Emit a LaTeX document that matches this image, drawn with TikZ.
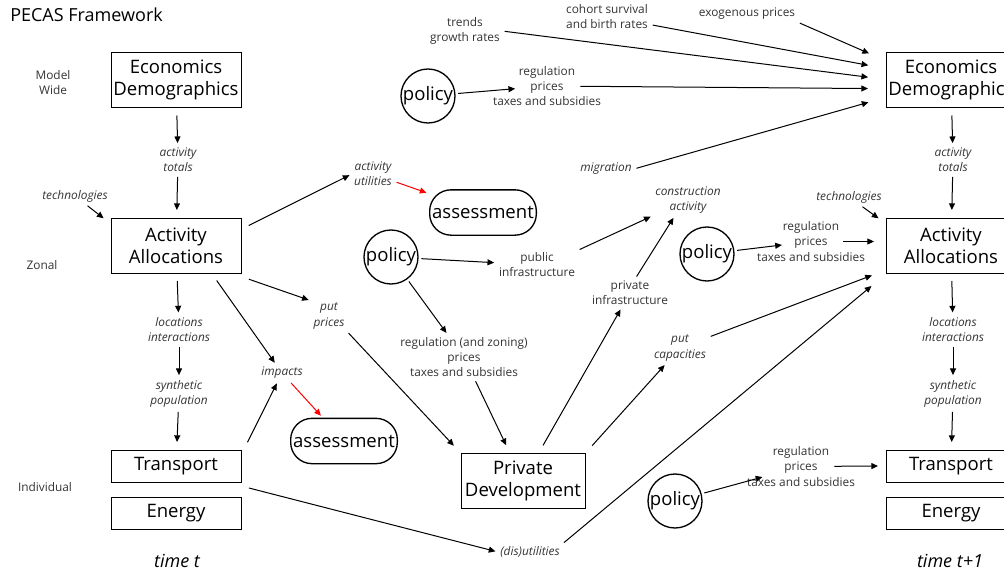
\documentclass[tikz,border=0pt]{standalone}
\usepackage{fontspec}
\setmainfont{Open Sans}
\usetikzlibrary{arrows.meta}
\begin{document}
\begin{tikzpicture}[
    x=0.75pt, y=-0.75pt,
    >={Triangle[length=5pt,width=4.5pt]},
    every node/.style={font=\fontsize{8.9}{11.3}\selectfont, text=black!80, align=center, inner sep=1.5pt},
    box/.style={draw, line width=0.75pt, text=black, font=\fontsize{13.9}{16.5}\selectfont,
      minimum width=97.5pt, minimum height=41.25pt, inner sep=0pt, outer sep=4pt},
    thinbox/.style={box, minimum height=24pt},
    policy/.style={draw, circle, line width=1pt, minimum size=40.5pt, inner sep=0pt,
      text=black, font=\fontsize{13.9}{16}\selectfont},
    assess/.style={draw, rounded corners=16pt, line width=1pt, minimum width=80pt,
      minimum height=34pt, inner sep=0pt, text=black, font=\fontsize{13.9}{16}\selectfont},
    lbl/.style={font=\fontsize{8.9}{11.3}\selectfont\itshape},
    side/.style={font=\fontsize{8.9}{11.3}\selectfont},
    timelbl/.style={font=\fontsize{13.5}{15}\selectfont\itshape, text=black},
    flow/.style={->, line width=0.75pt, shorten <=2pt, shorten >=2pt},
    redflow/.style={flow, red},
  ]

  \clip (0,0) rectangle (1004,571);

  % --- title and levels ---
  \node[anchor=west, font=\fontsize{13.5}{15}\selectfont, text=black] (title) at (8,15) {PECAS Framework};
  \node[side] (lvlModel) at (53,83) {Model\\Wide};
  \node[side] (lvlZonal) at (42,265) {Zonal};
  \node[side] (lvlIndiv) at (45,487) {Individual};

  % --- time t ---
  \node[box] (ecoL) at (176,80) {Economics\\Demographics};
  \node[lbl] (totL) at (178,160) {activity\\totals};
  \node[lbl] (techL) at (75,196) {technologies};
  \node[box] (actL) at (176,245.5) {Activity\\Allocations};
  \node[lbl] (locL) at (179,329.5) {locations\\interactions};
  \node[lbl] (synL) at (179,393.5) {synthetic\\population};
  \node[thinbox] (trnL) at (176,466) {Transport};
  \node[thinbox] (enL) at (176,513) {Energy};
  \node[timelbl] (timeL) at (177,561) {time t};

  % --- in between ---
  \node[lbl] (utilL) at (373,174) {activity\\utilities};
  \node[assess] (asmtA) at (483,212.5) {assessment};
  \node[policy] (polB) at (391,257) {policy};
  \node[side] (pubL) at (537,265) {public\\infrastructure};
  \node[lbl] (conL) at (688,200) {construction\\activity};
  \node[side] (privL) at (630,293) {private\\infrastructure};
  \node[side] (regzL) at (464,357) {regulation (and zoning)\\prices\\taxes and subsidies};
  \node[lbl] (priceL) at (329,316) {put\\prices};
  \node[lbl] (impL) at (282,373) {impacts};
  \node[assess] (asmtB) at (344,441) {assessment};
  \node[box, minimum width=93pt] (pdev) at (523,480.5) {Private\\Development};
  \node[lbl] (capL) at (680,348) {put\\capacities};
  \node[lbl] (disL) at (530,552) {(dis)utilities};

  % --- top ---
  \node[side] (trndL) at (465,31) {trends\\growth rates};
  \node[side] (cohL) at (607,17) {cohort survival\\and birth rates};
  \node[side] (exoL) at (747,14) {exogenous prices};
  \node[policy] (polA) at (428,96) {policy};
  \node[side] (regTL) at (547,86) {regulation\\prices\\taxes and subsidies};
  \node[lbl] (migL) at (606,169) {migration};

  % --- time t+1 ---
  \node[box] (ecoR) at (951,80) {Economics\\Demographics};
  \node[lbl] (totR) at (953,160) {activity\\totals};
  \node[lbl] (techR) at (849,197) {technologies};
  \node[box] (actR) at (951,245.5) {Activity\\Allocations};
  \node[lbl] (locR) at (953,329.5) {locations\\interactions};
  \node[lbl] (synR) at (953,393.5) {synthetic\\population};
  \node[thinbox] (trnR) at (951,466) {Transport};
  \node[thinbox] (enR) at (951,513) {Energy};
  \node[timelbl] (timeR) at (950,561) {time t+1};
  \node[policy] (polC) at (707,254) {policy};
  \node[side] (regR) at (811,241.5) {regulation\\prices\\taxes and subsidies};
  \node[policy] (polD) at (675,501) {policy};
  \node[side] (regRB) at (801,466.5) {regulation\\prices\\taxes and subsidies};

  % --- connectors, time t ---
  \draw[flow] (ecoL) -- (totL);
  \draw[flow] (totL) -- (actL);
  \draw[flow] (techL) -- (actL.160);
  \draw[flow] (actL) -- (locL);
  \draw[flow] (locL) -- (synL);
  \draw[flow] (synL) -- (trnL);
  \draw[flow] (actL.15) -- (utilL.west);
  \draw[redflow] (utilL) -- (asmtA);
  \draw[flow] (actL.south east) -- (priceL.north west);
  \draw[flow] (priceL.south east) -- (pdev.north west);
  \draw[flow] (actL.-40) -- (impL);
  \draw[flow] (trnL.north east) -- (impL);
  \draw[redflow] (impL) -- (asmtB);
  \draw[flow] (trnL.south east) -- (disL.west);
  \draw[flow, shorten >=9pt] (disL.north east) -- (actR.south west);

  % --- connectors, development ---
  \draw[flow] (polB) -- (pubL);
  \draw[flow] (polB) -- (regzL);
  \draw[flow] (regzL) -- (pdev);
  \draw[flow] (pubL.north east) -- (conL.south west);
  \draw[flow] (privL.70) -- (conL.-130);
  \draw[flow] (pdev) -- (privL);
  \draw[flow] (pdev.north east) -- (capL);
  \draw[flow, shorten >=7pt] (capL) -- (actR);

  % --- connectors, model wide ---
  \draw[flow, shorten >=9.5pt] (exoL.south east) -- (ecoR.163);
  \draw[flow, shorten >=9.5pt] (cohL.-10) -- (ecoR.170);
  \draw[flow, shorten >=9.5pt] (trndL.east) -- (ecoR.179);
  \draw[flow, shorten <=25pt, shorten >=9.5pt] (regTL.center) -- (ecoR.187);
  \draw[flow, shorten >=9.5pt] (migL.east) -- (ecoR.195);
  \draw[flow, shorten >=24pt] (polA) -- (regTL.center);

  % --- connectors, time t+1 ---
  \draw[flow] (ecoR) -- (totR);
  \draw[flow] (totR) -- (actR);
  \draw[flow] (techR) -- (actR.160);
  \draw[flow] (actR) -- (locR);
  \draw[flow] (locR) -- (synR);
  \draw[flow] (synR) -- (trnR);
  \draw[flow, shorten >=22pt] (polC) -- (regR.center);
  \draw[flow, shorten <=24pt, shorten >=5pt] (regR.center) -- (regR.center -| actR.west);
  \draw[flow, shorten >=30pt] (polD) -- (regRB.center);
  \draw[flow, shorten <=25pt] (regRB.center) -- (trnR.west);

\end{tikzpicture}
\end{document}
